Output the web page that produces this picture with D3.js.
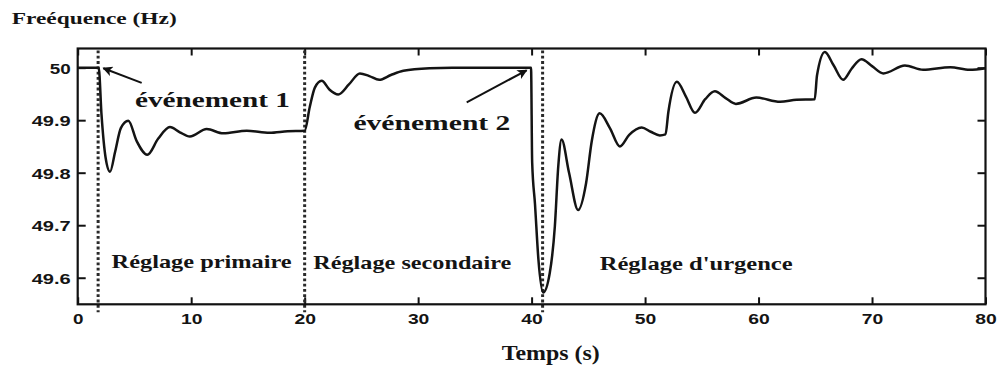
<!DOCTYPE html>
<html>
<head>
<meta charset="utf-8">
<script src="https://cdn.jsdelivr.net/npm/d3@7"></script>
<style>
  html, body { margin: 0; padding: 0; background: #fff; }
  svg { display: block; }
  .serif { font-family: "Liberation Serif", "Times New Roman", serif; font-weight: bold; fill: #141414; }
  .tick text { font-family: "Liberation Sans", Arial, sans-serif; font-weight: bold; font-size: 14.5px; fill: #141414; }
</style>
</head>
<body>
<svg id="chart" width="1000" height="367"></svg>
<script>
// Grid frequency response (Hz) over time (s)
const time = [
  0, 1.85, 2.1, 2.45, 2.85, 3.3, 3.8, 4.46, 5.2, 6.13, 7.1, 8.13, 9.0, 9.89,
  11.37, 12.83, 14.9, 16.9, 18.5, 20.0, 20.45, 20.9, 21.5, 22.2, 22.96, 23.9,
  24.87, 25.7, 26.57, 27.6, 28.7, 31.0, 33.0, 39.95, 40.05, 40.3, 40.6, 41.02,
  41.6, 42.05, 42.35, 42.64, 43.3, 44.1, 44.8, 45.3, 46.0, 46.9, 47.78, 48.6,
  49.7, 50.5, 51.3, 51.8, 52.05, 52.8, 53.6, 54.4, 55.3, 56.15, 57.1, 58.0,
  59.8, 61.9, 63.35, 64.95, 65.15, 65.84, 66.6, 67.45, 68.2, 69.07, 70.0,
  71.0, 72.9, 74.5, 76.9, 78.6, 80.0
];
const frequency = [
  50.0, 50.0, 49.91, 49.83, 49.802, 49.84, 49.885, 49.899, 49.86, 49.834, 49.865, 49.887, 49.877, 49.869,
  49.883, 49.875, 49.880, 49.876, 49.879, 49.880, 49.925, 49.962, 49.975, 49.958, 49.949, 49.968,
  49.989, 49.984, 49.977, 49.986, 49.994, 49.999, 50.0, 50.0, 49.82, 49.74, 49.635, 49.572,
  49.609, 49.698, 49.812, 49.863, 49.80, 49.729, 49.78, 49.86, 49.913, 49.885, 49.850, 49.872,
  49.886, 49.878, 49.871, 49.873, 49.915, 49.973, 49.945, 49.914, 49.94, 49.955, 49.942, 49.931,
  49.943, 49.935, 49.939, 49.940, 49.985, 50.030, 50.005, 49.977, 49.998, 50.016, 50.003,
  49.989, 50.004, 49.996, 50.001, 49.996, 49.999
];
const eventTimes = [1.8, 20, 40.97];
const xTicks = [0, 10, 20, 30, 40, 50, 60, 70, 80];
const yTicks = [49.6, 49.7, 49.8, 49.9, 50];
const yTickLabels = ["49.6", "49.7", "49.8", "49.9", "50"];
const phaseLabels = ["Réglage primaire", "Réglage secondaire", "Réglage d'urgence"];
const eventLabels = ["événement 1", "événement 2"];

const svg = d3.select("#chart");
const mLeft = 77.7, mRight = 985.5, mTop = 48.5, mBottom = 304.3;

const x = d3.scaleLinear().domain([0, 80]).range([mLeft, mRight]);
const y = d3.scaleLinear().domain([49.5494, 50.0365]).range([mBottom, mTop]);

// Stretch a text element horizontally to a given width
function fit(sel, w) {
  sel.attr("textLength", w).attr("lengthAdjust", "spacingAndGlyphs");
  return sel;
}

// Axes with inward ticks
const gx = svg.append("g").attr("transform", `translate(0,${mBottom})`)
  .call(d3.axisBottom(x).tickValues(xTicks).tickSizeInner(-7).tickSizeOuter(0).tickPadding(11).tickFormat(d3.format("d")));
gx.select(".domain").remove();
gx.selectAll(".tick line").attr("stroke", "#111").attr("stroke-width", 2);
gx.selectAll(".tick text").attr("y", 19.5).attr("dy", 0).each(function(d) {
  const s = String(d);
  fit(d3.select(this), s.length === 1 ? 10.5 : 21.5);
});

const gxt = svg.append("g").attr("transform", `translate(0,${mTop})`)
  .call(d3.axisTop(x).tickValues(xTicks).tickSizeInner(-7).tickSizeOuter(0).tickFormat(""));
gxt.select(".domain").remove();
gxt.selectAll(".tick line").attr("stroke", "#111").attr("stroke-width", 2);

const gy = svg.append("g").attr("transform", `translate(${mLeft},0)`)
  .call(d3.axisLeft(y).tickValues(yTicks).tickSizeInner(-8).tickSizeOuter(0).tickPadding(14)
    .tickFormat((d, i) => yTickLabels[i]));
gy.select(".domain").remove();
gy.selectAll(".tick line").attr("stroke", "#111").attr("stroke-width", 2);
gy.selectAll(".tick text").attr("x", -7).attr("dy", "0.37em").each(function(d, i) {
  fit(d3.select(this), yTickLabels[i].length === 2 ? 21 : 39);
});

const gyr = svg.append("g").attr("transform", `translate(${mRight},0)`)
  .call(d3.axisRight(y).tickValues(yTicks).tickSizeInner(-8).tickSizeOuter(0).tickFormat(""));
gyr.select(".domain").remove();
gyr.selectAll(".tick line").attr("stroke", "#111").attr("stroke-width", 2);

// Event markers (dotted verticals)
svg.append("g").selectAll("line").data(eventTimes).join("line")
  .attr("x1", d => x(d)).attr("x2", d => x(d))
  .attr("y1", mTop + 2).attr("y2", mBottom + 8)
  .attr("stroke", "#2a2a2a").attr("stroke-width", 3)
  .attr("stroke-dasharray", "2.8,2.5");

// Frame
svg.append("rect")
  .attr("x", mLeft).attr("y", mTop)
  .attr("width", mRight - mLeft).attr("height", mBottom - mTop)
  .attr("fill", "none").attr("stroke", "#111").attr("stroke-width", 2.2);

// Frequency curve
const pts = time.map((t, i) => [t, frequency[i]]);
const line = d3.line().x(d => x(d[0])).y(d => y(d[1])).curve(d3.curveMonotoneX);
svg.append("path").datum(pts)
  .attr("d", line)
  .attr("fill", "none").attr("stroke", "#141414")
  .attr("stroke-width", 2.5).attr("stroke-linejoin", "round");

// Arrow marker
svg.append("defs").append("marker")
  .attr("id", "arrow").attr("viewBox", "0 0 10 10")
  .attr("refX", 9).attr("refY", 5)
  .attr("markerWidth", 13).attr("markerHeight", 10)
  .attr("markerUnits", "userSpaceOnUse")
  .attr("orient", "auto")
  .append("path").attr("d", "M0,0 L10,5 L0,10 L2.5,5 z").attr("fill", "#111");

// Arrows pointing at each event
const arrows = [
  { from: [5.64, 49.971], to: [2.26, 49.999] },
  { from: [34.28, 49.934], to: [39.56, 49.995] }
];
svg.append("g").selectAll("line").data(arrows).join("line")
  .attr("x1", d => x(d.from[0])).attr("y1", d => y(d.from[1]))
  .attr("x2", d => x(d.to[0])).attr("y2", d => y(d.to[1]))
  .attr("stroke", "#111").attr("stroke-width", 2)
  .attr("marker-end", "url(#arrow)");

// Event labels
const eventPos = [
  { t: 5.05, f: 49.926, w: 155 },
  { t: 24.3, f: 49.882, w: 157 }
];
svg.append("g").selectAll("text").data(eventLabels).join("text")
  .attr("class", "serif")
  .attr("x", (d, i) => x(eventPos[i].t))
  .attr("y", (d, i) => y(eventPos[i].f))
  .attr("font-size", 21)
  .text(d => d)
  .each(function(d, i) { fit(d3.select(this), eventPos[i].w); });

// Phase labels
const phasePos = [
  { t: 2.99, w: 180 },
  { t: 20.76, w: 198 },
  { t: 46.0, w: 193 }
];
svg.append("g").selectAll("text").data(phaseLabels).join("text")
  .attr("class", "serif")
  .attr("x", (d, i) => x(phasePos[i].t))
  .attr("y", (d, i) => y(49.618) + i * 1.1)
  .attr("font-size", 19)
  .text(d => d)
  .each(function(d, i) { fit(d3.select(this), phasePos[i].w); });

// Axis titles
fit(svg.append("text").attr("class", "serif")
  .attr("x", 11.7).attr("y", 24).attr("font-size", 16)
  .text("Freéquence (Hz)"), 165);

fit(svg.append("text").attr("class", "serif")
  .attr("x", 501.7).attr("y", 360).attr("font-size", 20)
  .text("Temps (s)"), 98);
</script>
</body>
</html>
